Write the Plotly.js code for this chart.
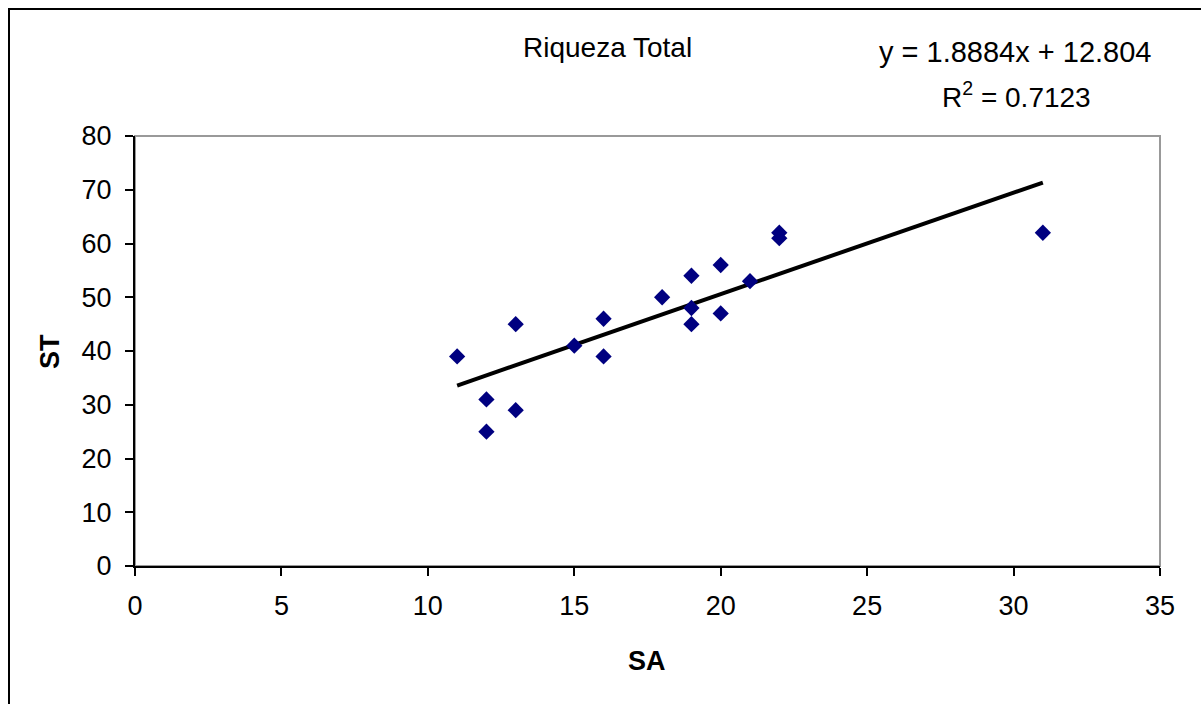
<!DOCTYPE html>
<html>
<head>
<meta charset="utf-8">
<script src="https://cdn.plot.ly/plotly-3.0.1.min.js"></script>
<style>
html,body{margin:0;padding:0;background:#fff;}
#chart{width:1201px;height:704px;}
</style>
</head>
<body>
<div id="chart"></div>
<script>
// Data
var saValues = [11, 12, 12, 13, 13, 15, 16, 16, 18, 19, 19, 19, 20, 20, 21, 22, 22, 31];
var stValues = [39, 31, 25, 45, 29, 41, 46, 39, 50, 54, 48, 45, 56, 47, 53, 62, 61, 62];
// Trendline coefficients as printed on the chart
var trendSlope = 1.8884;
var trendIntercept = 12.804;
var trendR2 = 0.7123;
var xTicks = [0, 5, 10, 15, 20, 25, 30, 35];
var yTicks = [0, 10, 20, 30, 40, 50, 60, 70, 80];
var chartTitle = 'Riqueza Total';
var xTitle = 'SA';
var yTitle = 'ST';

var xMin = Math.min.apply(null, saValues);
var xMax = Math.max.apply(null, saValues);
var trendX = [xMin, xMax];
var trendY = trendX.map(function (x) { return trendSlope * x + trendIntercept; });

var FONT = '"Liberation Sans", Arial, sans-serif';

var traces = [
  {
    x: trendX, y: trendY, type: 'scatter', mode: 'lines',
    line: {color: '#000000', width: 4}, hoverinfo: 'skip', showlegend: false
  },
  {
    x: saValues, y: stValues, type: 'scatter', mode: 'markers',
    marker: {symbol: 'diamond', size: 12.5, color: '#000080', line: {width: 0}},
    showlegend: false
  }
];

// plot area in pixels: x 135..1160, y 136..566
function px(x) { return (x - 135) / 1025; }
function py(y) { return (566 - y) / 430; }

var layout = {
  width: 1201, height: 704,
  margin: {l: 135, r: 41, t: 136, b: 138, pad: 0},
  paper_bgcolor: '#ffffff', plot_bgcolor: '#ffffff',
  font: {family: FONT, size: 27, color: '#000000'},
  showlegend: false,
  xaxis: {
    range: [0, 35], tickvals: xTicks, ticktext: xTicks.map(String),
    showgrid: false, zeroline: false,
    showline: true, linecolor: '#000000', linewidth: 2,
    ticks: 'outside', ticklen: 8, tickwidth: 2, tickcolor: '#000000',
    ticklabelstandoff: 7,
    tickfont: {family: FONT, size: 27, color: '#000000'},
    fixedrange: true
  },
  yaxis: {
    range: [0, 80], tickvals: yTicks, ticktext: yTicks.map(String),
    showgrid: false, zeroline: false,
    showline: true, linecolor: '#000000', linewidth: 2,
    ticks: 'outside', ticklen: 8, tickwidth: 2, tickcolor: '#000000',
    ticklabelstandoff: 8,
    tickfont: {family: FONT, size: 27, color: '#000000'},
    fixedrange: true
  },
  shapes: [
    {type: 'rect', xref: 'paper', yref: 'paper', x0: 0, x1: 1, y0: 0, y1: 1,
     line: {color: '#999999', width: 2}, layer: 'below'},
    {type: 'rect', xref: 'paper', yref: 'paper', x0: px(9), x1: px(1230), y0: py(9), y1: py(740),
     line: {color: '#000000', width: 2}, fillcolor: 'rgba(0,0,0,0)'}
  ],
  annotations: [
    {text: chartTitle, xref: 'paper', yref: 'paper', x: px(607), y: py(48),
     xanchor: 'center', yanchor: 'middle', showarrow: false,
     font: {family: FONT, size: 28, color: '#000000'}},
    {text: 'y = ' + trendSlope + 'x + ' + trendIntercept, xref: 'paper', yref: 'paper',
     x: px(1015), y: py(52), xanchor: 'center', yanchor: 'middle', showarrow: false,
     font: {family: FONT, size: 29, color: '#000000'}},
    {text: 'R<sup>2</sup> = ' + trendR2, xref: 'paper', yref: 'paper',
     x: px(1016), y: py(95), xanchor: 'center', yanchor: 'middle', showarrow: false,
     font: {family: FONT, size: 28, color: '#000000'}},
    {text: '<b>' + xTitle + '</b>', xref: 'paper', yref: 'paper', x: px(647), y: py(661),
     xanchor: 'center', yanchor: 'middle', showarrow: false,
     font: {family: FONT, size: 27, color: '#000000'}},
    {text: '<b>' + yTitle + '</b>', xref: 'paper', yref: 'paper', x: px(50), y: py(352),
     xanchor: 'center', yanchor: 'middle', showarrow: false, textangle: -90,
     font: {family: FONT, size: 27, color: '#000000'}}
  ]
};

Plotly.newPlot('chart', traces, layout, {displayModeBar: false, staticPlot: true});
</script>
</body>
</html>
